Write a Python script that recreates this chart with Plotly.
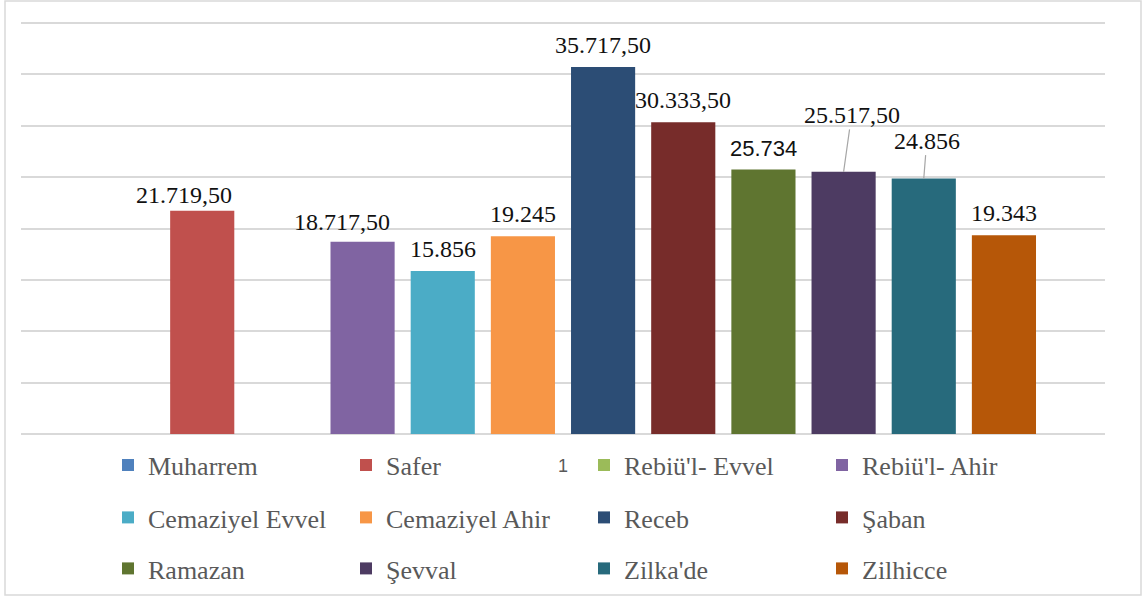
import plotly.graph_objects as go

# ---------------- data ----------------
categories = ["1"]
months = ["Muharrem", "Safer", "Rebiü'l- Evvel", "Rebiü'l- Ahir",
          "Cemaziyel Evvel", "Cemaziyel Ahir", "Receb", "Şaban",
          "Ramazan", "Şevval", "Zilka'de", "Zilhicce"]
values = [None, 21719.5, None, 18717.5,
          15856, 19245, 35717.5, 30333.5,
          25734, 25517.5, 24856, 19343]
colors = ["#4F81BD", "#C0504D", "#9BBB59", "#8064A2",
          "#4BACC6", "#F79646", "#2C4D75", "#772C2A",
          "#5F7530", "#4D3B62", "#276A7C", "#B65708"]

# ---------------- style ----------------
W, H = 1143, 597
ML, MR, MT, MB = 21, 38, 21, 163
PLOT_W = W - ML - MR
PLOT_H = H - MT - MB
Y_TOP = 40000 * PLOT_H / (PLOT_H - 2)   # keep the 40000 gridline 2px inside
BARGAP = 0.1125
GROUPGAP = 0.2
N = len(months)
SERIF = "Liberation Serif, Times New Roman, serif"
SANS = "Liberation Sans, Arial, sans-serif"
GRID = "#D9D9D9"
TXT_GRAY = "#595959"
LABEL_FONT = dict(family=SERIF, size=24, color="#111111")

# per-label tweaks (pixels)
label_shift = {"Safer": (-18, 1), "Rebiü'l- Ahir": (-21, 5)}
label_sans = {"Ramazan"}
leader = {"Şevval": (8, -57), "Zilka'de": (3, -38)}


def tr_fmt(v):
    if float(v).is_integer():
        return f"{int(v):,}".replace(",", ".")
    s = f"{v:,.2f}"
    return s.replace(",", "X").replace(".", ",").replace("X", ".")


def bar_center(i):
    slot = (1 - BARGAP) / N
    return -0.5 + BARGAP / 2 + (i + 0.5) * slot


def px_x(p):
    return (p - ML) / PLOT_W


def px_y(p):
    return (H - MB - p) / PLOT_H


fig = go.Figure()
legend_names = ["legend", "legend2", "legend3"]
for i, (m, v, c) in enumerate(zip(months, values, colors)):
    fig.add_trace(go.Bar(
        x=categories, y=[v], name=m,
        marker=dict(color=c, line=dict(width=0)),
        legend=legend_names[i // 4],
        hoverinfo="skip",
    ))

annotations = []
for i, (m, v) in enumerate(zip(months, values)):
    if v is None:
        continue
    font = dict(LABEL_FONT)
    if m in label_sans:
        font = dict(family=SANS, size=22, color="#111111")
    if m in leader:
        ax, ay = leader[m]
        annotations.append(dict(
            x=bar_center(i), y=v, xref="x", yref="y", text=tr_fmt(v),
            showarrow=True, arrowhead=0, arrowwidth=1.2, arrowcolor="#A6A6A6",
            ax=ax, ay=ay, standoff=0, font=font,
        ))
    else:
        xs, ys = label_shift.get(m, (0, 7))
        annotations.append(dict(
            x=bar_center(i), y=v, xref="x", yref="y", text=tr_fmt(v),
            showarrow=False, yanchor="bottom", xanchor="center",
            xshift=xs, yshift=ys, font=font,
        ))

fig.update_layout(
    width=W, height=H,
    margin=dict(l=ML, r=MR, t=MT, b=MB, pad=0, autoexpand=False),
    paper_bgcolor="white", plot_bgcolor="white",
    barmode="group", bargap=BARGAP, bargroupgap=GROUPGAP,
    annotations=annotations,
    xaxis=dict(type="category", range=[-0.5, 0.5], showgrid=False,
               showline=False, zeroline=False, ticks="",
               tickfont=dict(family=SANS, size=18, color=TXT_GRAY),
               ticklabelstandoff=19),
    yaxis=dict(range=[0, Y_TOP], dtick=5000, showticklabels=False,
               showgrid=True, gridcolor=GRID, gridwidth=1.5,
               zeroline=True, zerolinecolor=GRID, zerolinewidth=1.5,
               showline=False, ticks=""),
    shapes=[dict(type="rect", xref="paper", yref="paper",
                 x0=px_x(5), x1=px_x(1141), y0=px_y(595), y1=px_y(1),
                 line=dict(color=GRID, width=1.5), layer="below")],
    showlegend=True,
)

row_centers = [465, 517.5, 568.5]
for name, yc in zip(legend_names, row_centers):
    fig.update_layout({name: dict(
        orientation="h", x=px_x(108), xanchor="left",
        y=px_y(yc), yanchor="middle",
        entrywidth=193, entrywidthmode="pixels",
        font=dict(family=SERIF, size=26, color=TXT_GRAY),
        bgcolor="rgba(0,0,0,0)", borderwidth=0, traceorder="normal",
    )})

fig.write_html("out.html", config={"displayModeBar": False},
               post_script="document.body.style.margin='0';")
